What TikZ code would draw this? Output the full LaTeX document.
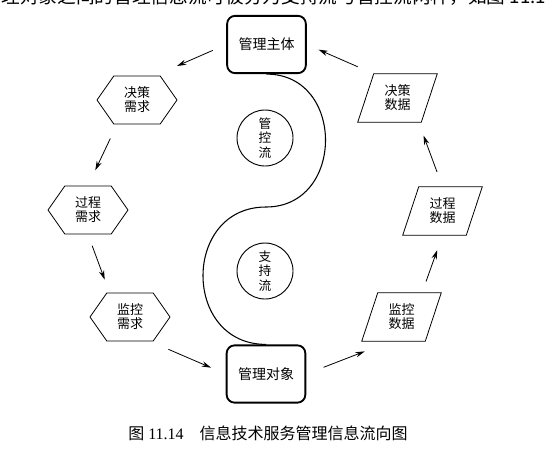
\documentclass[tikz,border=0pt]{standalone}
\usepackage{fontspec}
\setmainfont{Liberation Serif}
\newfontfamily\cjk{Noto Sans CJK SC}
\usetikzlibrary{positioning}
\usetikzlibrary{shapes.symbols}
\usetikzlibrary{arrows.meta}

\tikzset{
  zhubox/.style={draw, line width=1.4pt, rounded corners=6pt, minimum width=59pt, minimum height=43pt, inner sep=0pt, font=\cjk\fontsize{10.5}{12}\selectfont},
  liubox/.style={draw, circle, line width=0.7pt, minimum size=42pt, inner sep=0pt, align=center, font=\cjk\fontsize{9.5}{11}\selectfont},
  xqbox/.style={draw, signal, signal from=nowhere, signal to=east and west, signal pointer angle=110, line width=0.6pt, minimum width=60pt, minimum height=36pt, inner sep=0pt, align=center, font=\cjk\fontsize{9.75}{10.5}\selectfont},
  sjbox/.style={minimum width=47.25pt, minimum height=36pt, inner sep=0pt, align=center, font=\cjk\fontsize{9.75}{10.5}\selectfont},
  liuxian/.style={->, line width=0.6pt}
}

\begin{document}
\begin{tikzpicture}[x=0.75pt, y=-0.75pt, >={Stealth[length=7pt, width=4pt]}]
\useasboundingbox (0,0) rectangle (545,454);

% cut-off line of body text
\begin{scope}
\clip (0,0) rectangle (545,454);
\node[anchor=base west, inner sep=0pt, font=\cjk\fontsize{14}{16}\selectfont] (zhengwen) at (-36,3) {与管理对象之间的管理信息流可被分为支持流与管控流两种，如图 11.14 所示};
\end{scope}

\node[zhubox]   (zhuti)    at (266.5, 44.5) {管理主体};
\node[zhubox]   (duixiang) at (266, 374)    {管理对象};

\node[liubox]   (guankong) at (265, 138)    {管\\控\\流};
\node[liubox]   (zhichi)   at (265, 271)    {支\\持\\流};

\node[xqbox]    (jcxq)     at (137, 100)    {决策\\需求};
\node[xqbox]    (gcxq)     at (88, 210)     {过程\\需求};
\node[xqbox]    (jkxq)     at (130, 317)    {监控\\需求};

\node[sjbox]    (jcsj)     at (397.5, 98)   {决策\\数据};
\node[sjbox]    (gcsj)     at (442.5, 211)  {过程\\数据};
\node[sjbox]    (jksj)     at (401.5, 317)  {监控\\数据};

% parallelograms round the data nodes
\foreach \n in {jcsj,gcsj,jksj}
  \draw[line width=0.6pt] ([xshift=6pt]\n.north west) -- ([xshift=6pt]\n.north east)
    -- ([xshift=-6pt]\n.south east) -- ([xshift=-6pt]\n.south west) -- cycle;

% S-shaped line between the two boxes
\coordinate (zhong) at (266, 207);
\draw[line width=0.8pt] (zhuti.south) .. controls +(79,0) and +(79,0) .. (zhong)
  .. controls +(-84,0) and +(-84,0) .. (duixiang.north);

% flow arrows
\draw[liuxian, shorten <=11pt, shorten >=18pt] (zhuti.west) -- ([xshift=13.5pt]jcxq.north);
\draw[liuxian, shorten <=11.7pt, shorten >=12.7pt] ([xshift=-15pt]jcxq.south) -- (gcxq.north);
\draw[liuxian, shorten <=9pt, shorten >=10.3pt] (gcxq.south) -- ([xshift=-15.4pt]jkxq.north);
\draw[liuxian, shorten <=15pt, shorten >=12pt] ([xshift=15pt]jkxq.south) -- (duixiang.west);
\draw[liuxian, shorten <=13.9pt, shorten >=21pt] (duixiang.east) -- ([xshift=-8pt]jksj.south);
\draw[liuxian, shorten <=9pt, shorten >=11.8pt] ([xshift=15.4pt]jksj.north) -- (gcsj.south);
\draw[liuxian, shorten <=11.8pt, shorten >=10.6pt] (gcsj.north) -- ([xshift=-8pt]jcsj.south east);
\draw[liuxian, shorten <=13.1pt, shorten >=9.6pt] ([xshift=6pt]jcsj.north west) -- (zhuti.east);

\node[font=\fontsize{12}{14}\selectfont] (tuming) at (268, 433) {{\cjk 图} 11.14\quad{\cjk 信息技术服务管理信息流向图}};
\end{tikzpicture}
\end{document}
